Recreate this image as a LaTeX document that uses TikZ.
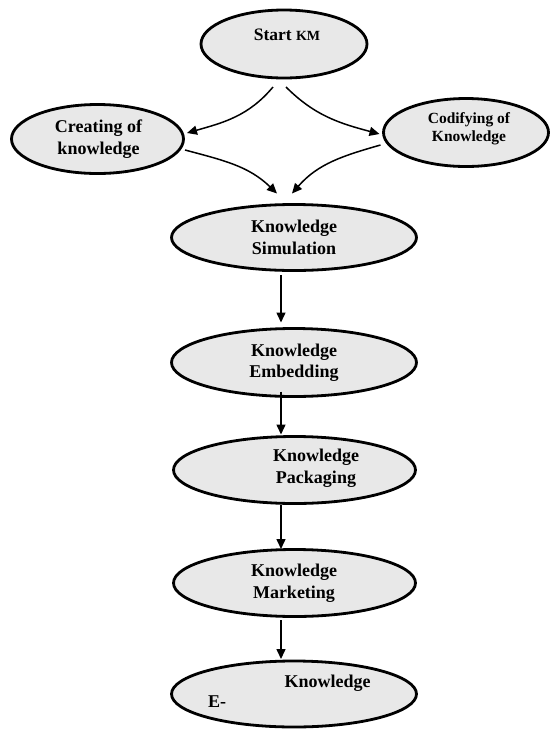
\documentclass[tikz,border=0pt]{standalone}
\usepackage{fontspec}
\setmainfont{Liberation Serif}
\usetikzlibrary{arrows.meta,calc,shapes.geometric}
\definecolor{elfill}{RGB}{232,232,232}
\begin{document}
\begin{tikzpicture}[x=1pt,y=-1pt,
  el/.style={ellipse, draw=black, fill=elfill, line width=2.8pt, inner sep=0pt, outer sep=0pt},
  lab/.style={font=\bfseries\fontsize{18}{21.5}\selectfont, align=center, inner sep=0pt},
  labs/.style={font=\bfseries\fontsize{15.5}{18}\selectfont, align=center, inner sep=0pt},
  arr/.style={line width=1.5pt, -{Triangle[length=10pt,width=9pt]}}
]
\useasboundingbox (0,0) rectangle (551,729);
% ellipses
\node[el, minimum width=166pt, minimum height=68pt] (start) at (284,44) {};
\node[el, minimum width=172pt, minimum height=69pt] (creat) at (97.5,139) {};
\node[el, minimum width=165pt, minimum height=68pt] (codif) at (466,132.5) {};
\node[el, minimum width=245pt, minimum height=66pt] (sim) at (294,237.5) {};
\node[el, minimum width=245pt, minimum height=68pt] (emb) at (294,362.5) {};
\node[el, minimum width=242pt, minimum height=67pt] (pack) at (294.5,470) {};
\node[el, minimum width=242pt, minimum height=67pt] (mark) at (294.5,583) {};
\node[el, minimum width=245pt, minimum height=66pt] (ek) at (294,694) {};
% texts
\node[inner sep=0pt, anchor=base, font=\bfseries\fontsize{17.5}{20}\selectfont] (tstart) at (287,40) {Start {\fontsize{14}{16}\selectfont KM}};
\node[lab] (tcreat) at (98.5,139) {Creating of\\knowledge};
\node[labs] (tcodif) at (469,129) {Codifying of\\Knowledge};
\node[lab] (tsim) at (294,237.5) {Knowledge\\Simulation};
\node[lab] (temb) at (294,362.5) {Knowledge\\Embedding};
\node[lab] (tpack) at (316,468) {Knowledge\\Packaging};
\node[lab] (tmark) at (294,583) {Knowledge\\Marketing};
\node[lab] (tek1) at (327.5,683) {Knowledge};
\node[lab] (tek2) at (217,702) {E-};
% curved arrows
\coordinate (s1) at ($(start.south)+(-11,9)$);
\coordinate (s2) at ($(start.south)+(2,9)$);
\coordinate (c1) at ($(creat.east)+(1.5,11)$);
\coordinate (d1) at ($(codif.west)+(-3,12.5)$);
\coordinate (m1) at ($(sim.north)+(-17,-11)$);
\coordinate (m2) at ($(sim.north)+(-2,-11)$);
\draw[arr] (s1) to[out=-130,in=16] ($(creat.east)+(3.5,-6)$);
\draw[arr] (s2) to[out=-45,in=165] ($(codif.west)+(-4,1.5)$);
\draw[arr] (c1) to[out=-15,in=136] (m1);
\draw[arr] (d1) to[out=196,in=49] (m2);
% straight arrows
\draw[arr] ($(sim.south)+(-13,4.5)$) -- ($(emb.north)+(-13,-6)$);
\draw[arr] ($(emb.south)+(-13,-5)$) -- ($(pack.north)+(-13.5,-2)$);
\draw[arr] ($(pack.south)+(-13.5,1.5)$) -- ($(mark.north)+(-13.5,-0.5)$);
\draw[arr] ($(mark.south)+(-13.5,3.5)$) -- ($(ek.north)+(-13,-2)$);
\end{tikzpicture}
\end{document}
